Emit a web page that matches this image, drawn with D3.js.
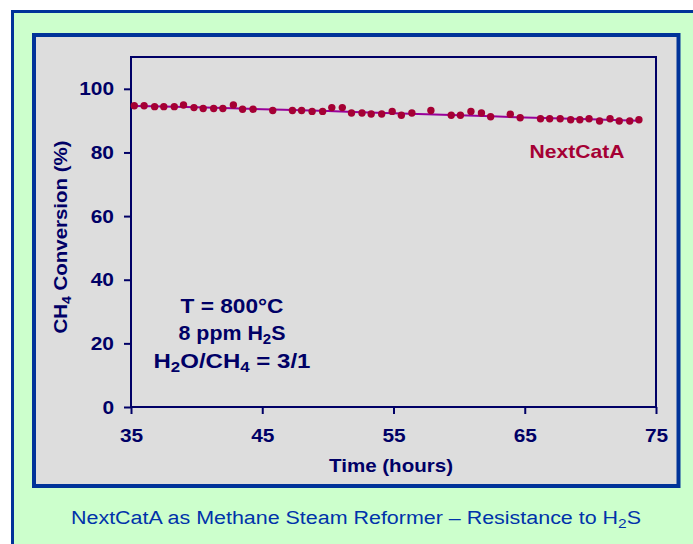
<!DOCTYPE html>
<html><head><meta charset="utf-8">
<script src="https://cdn.jsdelivr.net/npm/d3@7"></script>
<style>html,body{margin:0;padding:0;background:#fff;overflow:hidden}svg{display:block}</style>
</head><body>
<svg id="c" width="693" height="544"></svg>
<script>
const hours = [35.25,36.0,36.8,37.5,38.3,39.0,39.8,40.5,41.3,42.0,42.8,43.5,44.3,45.8,47.3,48.0,48.8,49.6,50.3,51.1,51.8,52.6,53.3,54.1,54.9,55.6,56.4,57.85,59.4,60.1,60.9,61.7,62.4,63.9,64.65,66.2,66.9,67.7,68.5,69.2,69.9,70.7,71.5,72.2,73.0,73.7];
const conversion = [94.7,94.7,94.4,94.4,94.4,94.9,94.1,93.8,93.8,93.8,94.9,93.6,93.6,93.2,93.2,93.2,92.9,92.9,94.1,94.1,92.4,92.4,92.1,92.1,92.9,91.7,92.4,93.2,91.7,91.7,92.9,92.4,91.2,92.0,90.9,90.6,90.6,90.6,90.3,90.3,90.6,89.9,90.6,89.9,89.9,90.3];
const trendHours = [35.25,40,45,50,55,60,65,70,73.7];
const trendValues = [94.6,94.2,93.6,93.0,92.3,91.7,91.0,90.4,90.0];
const xTicks = [35,45,55,65,75];
const yTicks = [0,20,40,60,80,100];
const seriesName = "NextCatA";
const conditions = ["T = 800°C", "8 ppm H|2|S", "H|2|O/CH|4| = 3/1"];
const caption = "NextCatA as Methane Steam Reformer – Resistance to H|2|S";

const svg = d3.select("#c");
const navy = "#000066", blue = "#003399", red = "#a50034";
const font = "Liberation Sans, Arial, sans-serif";

function fit(sel, w){ sel.attr("textLength", w).attr("lengthAdjust","spacingAndGlyphs"); }
function stretch(sel, k){ sel.each(function(){ const w=this.getComputedTextLength(); d3.select(this).attr("textLength", w*k).attr("lengthAdjust","spacingAndGlyphs"); }); }

// backgrounds
svg.append("rect").attr("x",0).attr("y",0).attr("width",693).attr("height",544).attr("fill","#fff");
svg.append("rect").attr("x",12.5).attr("y",11.5).attr("width",700).attr("height",560).attr("fill","#ccffcc").attr("stroke",blue).attr("stroke-width",3);
svg.append("rect").attr("x",34).attr("y",35).attr("width",644.5).attr("height",451).attr("fill","#dddddd").attr("stroke",blue).attr("stroke-width",4);

const x = d3.scaleLinear().domain([35,75]).range([131,656]);
const y = d3.scaleLinear().domain([0,110]).range([407,57]);

// plot frame
svg.append("rect").attr("x",x(35)).attr("y",y(110)).attr("width",x(75)-x(35)).attr("height",y(0)-y(110))
  .attr("fill","none").attr("stroke",navy).attr("stroke-width",2);

// axes
const yAxis = svg.append("g").attr("transform",`translate(${x(35)},0)`)
  .call(d3.axisLeft(y).tickValues(yTicks).tickSize(7).tickPadding(10).tickFormat(d3.format("d")));
const xAxis = svg.append("g").attr("transform",`translate(0,${y(0)})`)
  .call(d3.axisBottom(x).tickValues(xTicks).tickSize(7).tickPadding(15).tickFormat(d3.format("d")));
[yAxis,xAxis].forEach(a=>{
  a.select(".domain").remove();
  a.selectAll(".tick line").attr("stroke",navy).attr("stroke-width",2);
  a.selectAll(".tick text").attr("fill",navy).attr("font-family",font).attr("font-weight","bold").attr("font-size",19);
  stretch(a.selectAll(".tick text"), 1.1);
});

// subscript helper
function richText(sel, str, subSize){
  const parts = str.split("|");
  parts.forEach((p,i)=>{
    if(!p) return;
    const t = sel.append("tspan").text(p);
    if(i%2===1){ t.attr("font-size",subSize).attr("dy",4); }
    else if(i>0){ t.attr("dy",-4); }
  });
}

// axis titles
const xt = svg.append("text").attr("x",391).attr("y",472).attr("text-anchor","middle")
  .attr("fill",navy).attr("font-family",font).attr("font-weight","bold").attr("font-size",19).text("Time (hours)");
fit(xt, 124);
const yt = svg.append("text").attr("transform","translate(67,237) rotate(-90)").attr("text-anchor","middle")
  .attr("fill",navy).attr("font-family",font).attr("font-weight","bold").attr("font-size",19);
richText(yt, "CH|4| Conversion (%)", 13);
fit(yt, 193);

// trend line
const line = d3.line().x((d,i)=>x(trendHours[i])).y(d=>y(d)).curve(d3.curveMonotoneX);
svg.append("path").datum(trendValues).attr("d",line).attr("fill","none").attr("stroke","#990099").attr("stroke-width",2);

// points
svg.append("g").selectAll("circle").data(hours).join("circle")
  .attr("cx",d=>x(d)).attr("cy",(d,i)=>y(conversion[i])).attr("r",3.7).attr("fill",red);

// series label
const sl = svg.append("text").attr("x",577).attr("y",158).attr("text-anchor","middle")
  .attr("fill",red).attr("font-family",font).attr("font-weight","bold").attr("font-size",19).text(seriesName);
fit(sl, 95);

// conditions
const condW = [103,107,157];
const condY = [313,340,368];
conditions.forEach((c,i)=>{
  const t = svg.append("text").attr("x",232).attr("y",condY[i]).attr("text-anchor","middle")
    .attr("fill",navy).attr("font-family",font).attr("font-weight","bold").attr("font-size",20);
  richText(t, c, 14);
  fit(t, condW[i]);
});

// caption
const ct = svg.append("text").attr("x",356).attr("y",524).attr("text-anchor","middle")
  .attr("fill","#0033aa").attr("font-family",font).attr("font-size",18);
richText(ct, caption, 13);
fit(ct, 570);
</script>
</body></html>
